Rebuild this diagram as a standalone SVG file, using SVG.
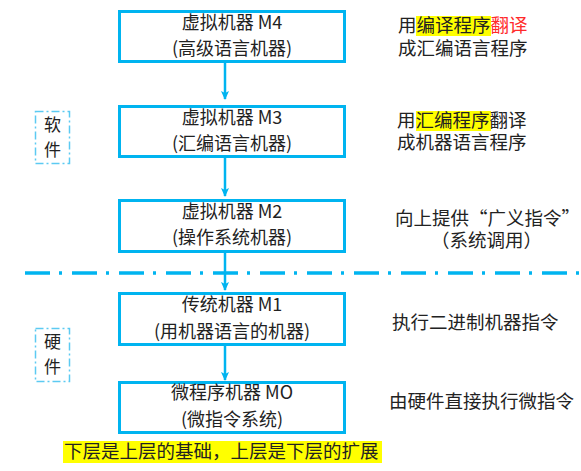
<svg xmlns="http://www.w3.org/2000/svg" width="581" height="471" viewBox="0 0 581 471">
  <style>
    .box { fill: #ffffff; stroke: #00b4f0; stroke-width: 3; }
    .bt { font-family: "Noto Sans CJK SC", "Liberation Serif", serif; font-size: 18px; fill: #222222; text-anchor: middle; }
    .rt { font-family: "Noto Sans CJK SC", "Liberation Sans", sans-serif; font-size: 18.5px; fill: #222222; }
    .tag { fill: none; stroke: #5ccaf2; stroke-width: 1.5; stroke-dasharray: 8 3 2 3; }
    .tt { font-family: "Noto Sans CJK SC", sans-serif; font-size: 17px; fill: #222222; text-anchor: middle; }
    .hl { fill: #ffff00; }
    .conn { stroke: #00b4f0; stroke-width: 2.5; fill: none; }
  </style>
  <defs>
    <marker id="arr" markerWidth="9" markerHeight="9" refX="8" refY="4.5" orient="auto" markerUnits="userSpaceOnUse">
      <path d="M0,0.5 L9,4.5 L0,8.5 L2,4.5 Z" fill="#00b4f0"/>
    </marker>
  </defs>

  <!-- connectors between levels, and the software/hardware divider -->
  <g id="connectors">
    <line class="conn" x1="225" y1="62" x2="225" y2="99" marker-end="url(#arr)"/>
    <line class="conn" x1="225" y1="157" x2="225" y2="196" marker-end="url(#arr)"/>
    <line class="conn" x1="225" y1="252" x2="225" y2="290" marker-end="url(#arr)"/>
    <line class="conn" x1="225" y1="345" x2="225" y2="380" marker-end="url(#arr)"/>
    <line x1="25" y1="273" x2="580" y2="273" stroke="#00b4f0" stroke-width="3.5" stroke-dasharray="25 9 3 10"/>
  </g>

  <g id="m4">
    <rect class="box" x="119.5" y="11.5" width="225" height="50"/>
    <text class="bt" x="232" y="29">虚拟机器 M4</text>
    <text class="bt" x="232" y="55">(高级语言机器)</text>
  </g>
  <g id="m3">
    <rect class="box" x="119.5" y="106.5" width="225" height="50"/>
    <text class="bt" x="232" y="124">虚拟机器 M3</text>
    <text class="bt" x="232" y="150">(汇编语言机器)</text>
  </g>
  <g id="m2">
    <rect class="box" x="119.5" y="200.5" width="225" height="51"/>
    <text class="bt" x="232" y="218">虚拟机器 M2</text>
    <text class="bt" x="232" y="244">(操作系统机器)</text>
  </g>
  <g id="m1">
    <rect class="box" x="119.5" y="293.5" width="225" height="51"/>
    <text class="bt" x="232" y="311">传统机器 M1</text>
    <text class="bt" x="232" y="338">(用机器语言的机器)</text>
  </g>
  <g id="m0">
    <rect class="box" x="119.5" y="382.5" width="225" height="50"/>
    <text class="bt" x="232" y="399">微程序机器 MO</text>
    <text class="bt" x="232" y="426">(微指令系统)</text>
  </g>

  <g id="software">
    <rect class="tag" x="35.5" y="111.5" width="34" height="52"/>
    <text class="tt" x="52.5" y="131">软</text>
    <text class="tt" x="52.5" y="156">件</text>
  </g>
  <g id="hardware">
    <rect class="tag" x="35.5" y="328.5" width="34" height="53"/>
    <text class="tt" x="52.5" y="348">硬</text>
    <text class="tt" x="52.5" y="373">件</text>
  </g>

  <!-- two-line notes beside each level -->
  <g id="note-m4">
    <rect class="hl" x="416" y="16" width="75" height="20"/>
    <text class="rt"><tspan x="398" y="32">用编译程序</tspan><tspan fill="#ff2a2a">翻译</tspan><tspan x="398" y="55">成汇编语言程序</tspan></text>
  </g>
  <g id="note-m3">
    <rect class="hl" x="416" y="111" width="75" height="20"/>
    <text class="rt"><tspan x="397" y="127">用汇编程序翻译</tspan><tspan x="397" y="149">成机器语言程序</tspan></text>
  </g>
  <g id="note-m2">
    <text class="rt"><tspan x="395" y="225">向上提供“广义指令”</tspan><tspan x="431" y="247">（系统调用）</tspan></text>
  </g>
  <g id="note-m1">
    <text class="rt" x="392" y="329">执行二进制机器指令</text>
  </g>
  <g id="note-m0">
    <text class="rt" x="389" y="408">由硬件直接执行微指令</text>
  </g>

  <g id="caption">
    <rect class="hl" x="63" y="441" width="319" height="22"/>
    <text class="rt" x="64" y="458">下层是上层的基础，上层是下层的扩展</text>
  </g>
</svg>
